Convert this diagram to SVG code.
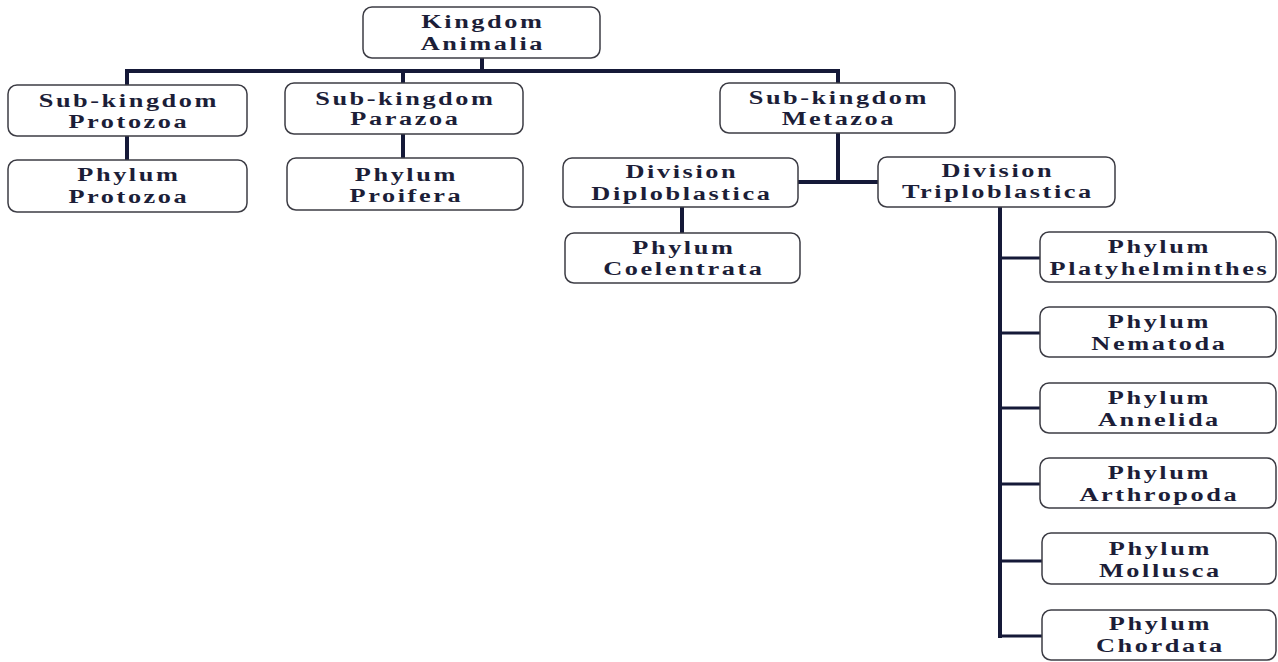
<svg xmlns="http://www.w3.org/2000/svg" width="1278" height="662" viewBox="0 0 1278 662">
<style>
  .box { fill: #ffffff; stroke: #3c3c44; stroke-width: 1.5; }
  .t { font-family: "Liberation Serif", "Times New Roman", serif; font-weight: bold; font-size: 19.5px; letter-spacing: 1.9px; fill: #1c1e38; text-anchor: middle; }
  .c { stroke: #151938; stroke-width: 4; fill: none; stroke-linecap: square; }
  .c2 { stroke: #151938; stroke-width: 3; fill: none; }
</style>
<rect width="1278" height="662" fill="#ffffff"/>
<g id="connectors">
  <path class="c" d="M482 58 V71 M127 71 H838 M127 71 V85 M403 71 V83 M838 71 V83"/>
  <path class="c" d="M127 136 V160 M403 134 V158"/>
  <path class="c" d="M838 133 V182 M798 182 H878"/>
  <path class="c" d="M682 207 V233"/>
  <path class="c" d="M1000 207 V636"/>
  <path class="c2" d="M1000 258 H1040 M1000 333 H1040 M1000 408 H1040 M1000 484 H1040 M1000 561 H1042 M1000 636 H1042"/>
</g>
<g id="kingdom">
  <rect class="box" x="363" y="7" width="237" height="51" rx="9"/>
  <text class="t" transform="translate(481.5,0) scale(1.35,1)"><tspan x="1" y="28">Kingdom</tspan><tspan x="1" y="50">Animalia</tspan></text>
</g>
<g id="subkingdom-protozoa">
  <rect class="box" x="8" y="85" width="239" height="51" rx="9"/>
  <text class="t" transform="translate(127.5,0) scale(1.35,1)"><tspan x="1" y="107">Sub-kingdom</tspan><tspan x="1" y="128">Protozoa</tspan></text>
</g>
<g id="phylum-protozoa">
  <rect class="box" x="8" y="160" width="239" height="52" rx="9"/>
  <text class="t" transform="translate(127.5,0) scale(1.35,1)"><tspan x="1" y="181">Phylum</tspan><tspan x="1" y="203">Protozoa</tspan></text>
</g>
<g id="subkingdom-parazoa">
  <rect class="box" x="285" y="83" width="238" height="51" rx="9"/>
  <text class="t" transform="translate(404,0) scale(1.35,1)"><tspan x="1" y="105">Sub-kingdom</tspan><tspan x="1" y="125">Parazoa</tspan></text>
</g>
<g id="phylum-proifera">
  <rect class="box" x="287" y="158" width="236" height="52" rx="9"/>
  <text class="t" transform="translate(405,0) scale(1.35,1)"><tspan x="1" y="181">Phylum</tspan><tspan x="1" y="202">Proifera</tspan></text>
</g>
<g id="subkingdom-metazoa">
  <rect class="box" x="720" y="83" width="235" height="50" rx="9"/>
  <text class="t" transform="translate(837.5,0) scale(1.35,1)"><tspan x="1" y="104">Sub-kingdom</tspan><tspan x="1" y="125">Metazoa</tspan></text>
</g>
<g id="division-diploblastica">
  <rect class="box" x="563" y="158" width="235" height="49" rx="9"/>
  <text class="t" transform="translate(680.5,0) scale(1.35,1)"><tspan x="1" y="178">Division</tspan><tspan x="1" y="200">Diploblastica</tspan></text>
</g>
<g id="phylum-coelentrata">
  <rect class="box" x="565" y="233" width="235" height="50" rx="9"/>
  <text class="t" transform="translate(682.5,0) scale(1.35,1)"><tspan x="1" y="254">Phylum</tspan><tspan x="1" y="275">Coelentrata</tspan></text>
</g>
<g id="division-triploblastica">
  <rect class="box" x="878" y="157" width="237" height="50" rx="9"/>
  <text class="t" transform="translate(996.5,0) scale(1.35,1)"><tspan x="1" y="177">Division</tspan><tspan x="1" y="198">Triploblastica</tspan></text>
</g>
<g id="phylum-platyhelminthes">
  <rect class="box" x="1040" y="232" width="236" height="50" rx="9"/>
  <text class="t" transform="translate(1158,0) scale(1.35,1)"><tspan x="1" y="253">Phylum</tspan><tspan x="1" y="275">Platyhelminthes</tspan></text>
</g>
<g id="phylum-nematoda">
  <rect class="box" x="1040" y="307" width="236" height="50" rx="9"/>
  <text class="t" transform="translate(1158,0) scale(1.35,1)"><tspan x="1" y="328">Phylum</tspan><tspan x="1" y="350">Nematoda</tspan></text>
</g>
<g id="phylum-annelida">
  <rect class="box" x="1040" y="383" width="236" height="50" rx="9"/>
  <text class="t" transform="translate(1158,0) scale(1.35,1)"><tspan x="1" y="404">Phylum</tspan><tspan x="1" y="426">Annelida</tspan></text>
</g>
<g id="phylum-arthropoda">
  <rect class="box" x="1040" y="458" width="236" height="50" rx="9"/>
  <text class="t" transform="translate(1158,0) scale(1.35,1)"><tspan x="1" y="479">Phylum</tspan><tspan x="1" y="501">Arthropoda</tspan></text>
</g>
<g id="phylum-mollusca">
  <rect class="box" x="1042" y="533" width="234" height="51" rx="9"/>
  <text class="t" transform="translate(1159,0) scale(1.35,1)"><tspan x="1" y="555">Phylum</tspan><tspan x="1" y="577">Mollusca</tspan></text>
</g>
<g id="phylum-chordata">
  <rect class="box" x="1042" y="610" width="234" height="50" rx="9"/>
  <text class="t" transform="translate(1159,0) scale(1.35,1)"><tspan x="1" y="630">Phylum</tspan><tspan x="1" y="652">Chordata</tspan></text>
</g>
</svg>
